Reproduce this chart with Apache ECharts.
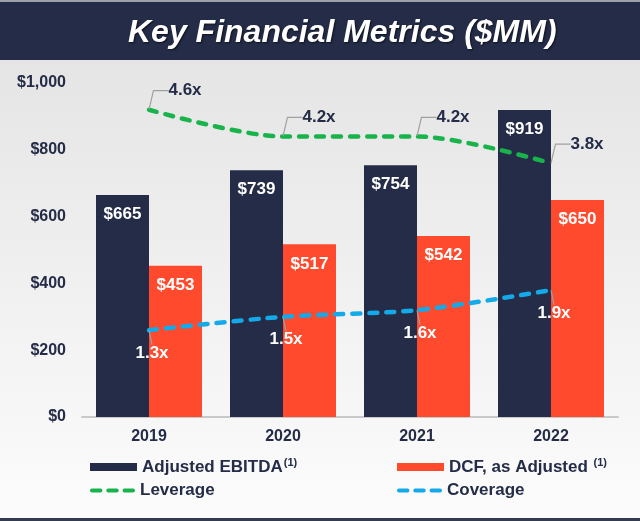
<!DOCTYPE html>
<html>
<head>
<meta charset="utf-8">
<script src="https://cdn.jsdelivr.net/npm/echarts@6/dist/echarts.min.js"></script>
<style>html,body{margin:0;padding:0;}#c{width:640px;height:521px;}</style>
</head>
<body>
<div id="c"></div>
<script>
var categories = ['2019', '2020', '2021', '2022'];
var ebitda = [665, 739, 754, 919];
var dcf = [453, 517, 542, 650];
var leverage = [4.6, 4.2, 4.2, 3.8];
var coverage = [1.3, 1.5, 1.6, 1.9];
var yTicks = [0, 200, 400, 600, 800, 1000];

var NAVY = '#242c47', RED = '#ff4a2e', GREEN = '#18b44b', BLUE = '#14a9e9';
var FONT = '"Liberation Sans", Arial, sans-serif';
var dashIcon = 'path://M2,0h9a2,2 0 0 1 0,4h-9a2,2 0 0 1 0,-4z M19,0h9a2,2 0 0 1 0,4h-9a2,2 0 0 1 0,-4z M36,0h9a2,2 0 0 1 0,4h-9a2,2 0 0 1 0,-4z';

var chart = echarts.init(document.getElementById('c'), null, {renderer: 'canvas'});
var legendText = {
  color: NAVY, fontFamily: FONT, fontSize: 17, fontWeight: 'bold',
  rich: {
    n: {color: NAVY, fontFamily: FONT, fontSize: 17, fontWeight: 'bold', lineHeight: 20},
    s: {color: NAVY, fontFamily: FONT, fontSize: 11, verticalAlign: 'top', lineHeight: 20, padding: [0, 0, 0, 1]}
  }
};
function mkLegend(name, icon, left, top, w, h, fmt) {
  return {
    data: [{name: name, icon: icon}], left: left, top: top, padding: 0,
    itemWidth: w, itemHeight: h, itemGap: 0, selectedMode: false,
    textStyle: legendText, formatter: fmt
  };
}
var option = {
  animation: false,
  backgroundColor: {type: 'linear', x: 0, y: 0, x2: 0, y2: 1,
    colorStops: [{offset: 0, color: '#e2e2e2'}, {offset: 1, color: '#fcfcfc'}]},
  textStyle: {fontFamily: FONT},
  graphic: [
    {type: 'rect', left: 0, top: 0, shape: {width: 640, height: 2}, style: {fill: '#9ca1aa'}, z: 0},
    {type: 'rect', left: 0, top: 2, shape: {width: 640, height: 58}, style: {fill: NAVY}, z: 0},
    {type: 'rect', left: 0, top: 518, shape: {width: 640, height: 3}, style: {fill: '#353b4f'}, z: 0}
  ],
  title: {
    text: 'Key Financial Metrics ($MM)', left: 128, top: 17, padding: 0,
    textStyle: {color: '#ffffff', fontFamily: FONT, fontSize: 32, fontWeight: 'bold', fontStyle: 'italic',
      textShadowColor: 'rgba(0,0,0,0.6)', textShadowBlur: 2, textShadowOffsetX: 1, textShadowOffsetY: 1}
  },
  legend: [
    mkLegend('Adjusted EBITDA', 'rect', 90, 457, 47, 8, function (n) { return '{n|' + n + '}{s|(1)}'; }),
    mkLegend('DCF, as Adjusted', 'rect', 397, 457, 47, 8, function (n) { return '{n|' + n + ' }{s|(1)}'; }),
    mkLegend('Leverage', dashIcon, 90, 482, 45, 5, function (n) { return '{n|' + n + '}'; }),
    mkLegend('Coverage', dashIcon, 397, 482, 45, 5, function (n) { return '{n|' + n + '}'; })
  ],
  grid: {left: 82, right: 22, top: 83, bottom: 104},
  xAxis: {
    type: 'category', data: categories,
    axisLine: {show: true, lineStyle: {color: '#c9c9c9', width: 2}},
    axisTick: {show: false},
    axisLabel: {color: NAVY, fontSize: 16, fontWeight: 'bold', fontFamily: FONT, margin: 12}
  },
  yAxis: [
    {
      type: 'value', min: yTicks[0], max: yTicks[yTicks.length - 1], interval: yTicks[1] - yTicks[0],
      splitLine: {show: false}, axisLine: {show: false}, axisTick: {show: false},
      axisLabel: {color: NAVY, fontSize: 16, fontWeight: 'bold', fontFamily: FONT, margin: 16,
        formatter: function (v) { return '$' + v.toLocaleString('en-US'); }}
    },
    {type: 'value', min: 0, max: 5, show: false, splitLine: {show: false}}
  ],
  series: [
    {
      name: 'Adjusted EBITDA', type: 'bar', data: ebitda, barWidth: 53, barGap: '0%',
      itemStyle: {color: NAVY},
      label: {show: true, position: 'insideTop', distance: 11, color: '#fff', fontSize: 17, fontWeight: 'bold',
        fontFamily: FONT, formatter: function (p) { return '$' + p.value; }},
      emphasis: {disabled: true}
    },
    {
      name: 'DCF, as Adjusted', type: 'bar', data: dcf, barWidth: 53, barGap: '0%',
      itemStyle: {color: RED},
      label: {show: true, position: 'insideTop', distance: 11, color: '#fff', fontSize: 17, fontWeight: 'bold',
        fontFamily: FONT, formatter: function (p) { return '$' + p.value; }},
      emphasis: {disabled: true}
    },
    {
      name: 'Leverage', type: 'line', yAxisIndex: 1, data: leverage, smooth: 0.3,
      symbol: 'circle', symbolSize: 1, showSymbol: true, z: 5,
      lineStyle: {color: GREEN, width: 4.5, type: [8, 9], cap: 'round'},
      itemStyle: {color: GREEN},
      label: {show: true, position: 'top', distance: 5, color: NAVY, fontSize: 17, fontWeight: 'bold', fontFamily: FONT,
        formatter: function (p) { return p.value.toFixed(1) + 'x'; }},
      labelLayout: {dx: 36, dy: -5},
      labelLine: {show: true, length2: 15, lineStyle: {color: '#a0a0a0', width: 1.2}},
      emphasis: {disabled: true}
    },
    {
      name: 'Coverage', type: 'line', yAxisIndex: 1, data: coverage, smooth: 0.3,
      symbol: 'circle', symbolSize: 1, showSymbol: true, z: 5,
      lineStyle: {color: BLUE, width: 4.5, type: [8, 9], cap: 'round'},
      itemStyle: {color: BLUE},
      label: {show: true, position: 'bottom', distance: 14, color: '#ffffff', fontSize: 17, fontWeight: 'bold', fontFamily: FONT,
        formatter: function (p) { return p.value.toFixed(1) + 'x'; }},
      labelLayout: {dx: 3, dy: 0},
      labelLine: {show: true, length2: 0, lineStyle: {color: '#a0a0a0', width: 1.2}},
      emphasis: {disabled: true}
    }
  ]
};
chart.setOption(option);
</script>
</body>
</html>
